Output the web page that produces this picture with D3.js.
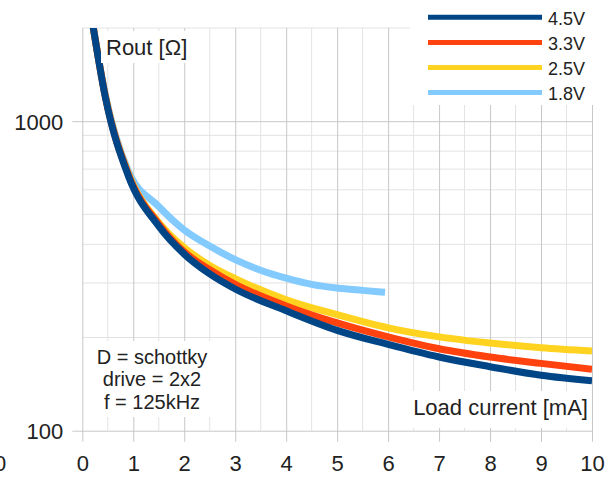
<!DOCTYPE html>
<html>
<head>
<meta charset="utf-8">
<script src="https://cdn.jsdelivr.net/npm/d3@7"></script>
<style>
  body { margin: 0; background: #fff; }
  svg { display: block; font-family: "Liberation Sans", Arial, sans-serif; }
</style>
</head>
<body>
<svg id="chart" width="611" height="478"></svg>
<script>
// load current [mA]
const current = [0.2, 0.45, 0.9, 1.5, 2, 2.5, 3, 4, 5, 6, 7, 8, 9, 10]
const current18 = [0.2, 0.45, 0.9, 1.5, 2, 2.5, 3, 3.5, 4, 4.5, 5, 5.5, 5.94]

// Rout [ohm] per supply voltage
const rout45 = [2080, 1200, 668, 458, 372, 321, 287, 244, 211, 190, 173, 161, 151, 145]
const rout33 = [2080, 1205, 675, 465, 378, 331, 297, 253, 223, 201, 184, 173, 165, 158]
const rout25 = [2080, 1210, 680, 471, 390, 342, 310, 265, 237, 215, 201, 192, 185.5, 181]
const rout18 = [2080, 1220, 692, 530, 445, 395, 357, 330, 311, 297, 289, 284, 280]

const seriesNames = ['4.5V', '3.3V', '2.5V', '1.8V']
const seriesColors = ['#004586', '#ff420e', '#ffd320', '#83caff']

const xTicks = [0, 1, 2, 3, 4, 5, 6, 7, 8, 9, 10]
const xMinor = [0.5, 1.5, 2.5, 3.5, 4.5, 5.5, 6.5, 7.5, 8.5, 9.5]
const yTicks = [100, 1000]
const yMinor = [200, 300, 400, 500, 600, 700, 800, 900, 2000]

const notes = ['D = schottky', 'drive = 2x2', 'f = 125kHz']

const series = [
    { name: seriesNames[0], color: seriesColors[0], x: current, y: rout45 },
    { name: seriesNames[1], color: seriesColors[1], x: current, y: rout33 },
    { name: seriesNames[2], color: seriesColors[2], x: current, y: rout25 },
    { name: seriesNames[3], color: seriesColors[3], x: current18, y: rout18 }
]

const svg = d3.select('#chart')

const pLeft = 82.3, pRight = 592, pTop = 28, pBottom = 430.7

const x = d3.scaleLinear().domain([0, 10]).range([pLeft, pRight])
const y = d3.scaleLog().domain([100, 2000]).range([pBottom, pTop])

// grid
const grid = svg.append('g')
grid.selectAll('.vminor').data(xMinor).enter().append('line')
    .attr('x1', d => x(d)).attr('x2', d => x(d))
    .attr('y1', pTop).attr('y2', pBottom)
    .attr('stroke', '#e3e3e3').attr('stroke-width', 1)
grid.selectAll('.hminor').data(yMinor).enter().append('line')
    .attr('x1', pLeft).attr('x2', pRight)
    .attr('y1', d => y(d)).attr('y2', d => y(d))
    .attr('stroke', '#e3e3e3').attr('stroke-width', 1)

const xAxis = svg.append('g')
    .attr('transform', `translate(0,${pBottom})`)
    .call(d3.axisBottom(x).tickValues(xTicks).tickSizeOuter(0))
xAxis.select('.domain').remove()
xAxis.selectAll('line').attr('stroke', '#c8c8c8').attr('y1', 11).attr('y2', -(pBottom - pTop))
xAxis.selectAll('text').attr('y', 40).attr('dy', 0)
    .attr('font-size', 22).attr('fill', '#222')
    .attr('font-family', '"Liberation Sans", Arial, sans-serif')

const yAxis = svg.append('g')
    .attr('transform', `translate(${pLeft},0)`)
    .call(d3.axisLeft(y).tickValues(yTicks).tickFormat(d3.format('d')).tickSizeOuter(0))
yAxis.select('.domain').remove()
yAxis.selectAll('line').attr('stroke', '#c8c8c8').attr('x1', -10).attr('x2', pRight - pLeft)
yAxis.selectAll('text').attr('x', -19).attr('dy', '0.36em')
    .attr('font-size', 22).attr('fill', '#222')
    .attr('font-family', '"Liberation Sans", Arial, sans-serif')

// cut-off label at the far left edge (as in the source picture)
svg.append('text').attr('x', 0).attr('y', pBottom + 40)
    .attr('text-anchor', 'middle').attr('font-size', 22).attr('fill', '#222')
    .text('0')

// curves
svg.append('clipPath').attr('id', 'plotclip')
    .append('rect').attr('x', pLeft).attr('y', pTop).attr('width', pRight - pLeft).attr('height', pBottom - pTop)

const line = d3.line()
    .x(d => x(d[0]))
    .y(d => y(d[1]))
    .curve(d3.curveMonotoneX)

svg.append('g').attr('clip-path', 'url(#plotclip)')
    .selectAll('path')
    .data(series.slice().reverse())
    .enter().append('path')
    .attr('d', s => line(s.x.map((v, i) => [v, s.y[i]])))
    .attr('fill', 'none')
    .attr('stroke', s => s.color)
    .attr('stroke-width', 7)
    .attr('stroke-linejoin', 'round')

// axis titles on white boxes
svg.append('rect').attr('x', 101).attr('y', 31).attr('width', 91).attr('height', 32).attr('fill', '#fff')
svg.append('text').attr('x', 106).attr('y', 55)
    .attr('font-size', 22).attr('fill', '#222').text('Rout [Ω]')

svg.append('rect').attr('x', 403).attr('y', 391).attr('width', 188).attr('height', 37).attr('fill', '#fff')
svg.append('text').attr('x', 588).attr('y', 415).attr('text-anchor', 'end')
    .attr('font-size', 22).attr('fill', '#222').text('Load current [mA]')

// notes
svg.append('rect').attr('x', 89).attr('y', 341).attr('width', 135).attr('height', 76).attr('fill', '#fff')
svg.append('g').selectAll('text').data(notes).enter().append('text')
    .attr('x', 152).attr('y', (d, i) => 363.5 + i * 22.7)
    .attr('text-anchor', 'middle').attr('font-size', 20).attr('fill', '#222')
    .text(d => d)

// legend
const legend = svg.append('g')
legend.append('rect').attr('x', 410).attr('y', 0).attr('width', 201).attr('height', 105).attr('fill', '#fff')
const item = legend.selectAll('.item').data(series).enter().append('g')
    .attr('transform', (d, i) => `translate(0,${17.3 + i * 25.1})`)
item.append('line').attr('x1', 428).attr('x2', 542).attr('y1', 0).attr('y2', 0)
    .attr('stroke', d => d.color).attr('stroke-width', 5)
item.append('text').attr('x', 548).attr('y', 7.7)
    .attr('font-size', 18).attr('fill', '#222').text(d => d.name)
</script>
</body>
</html>
